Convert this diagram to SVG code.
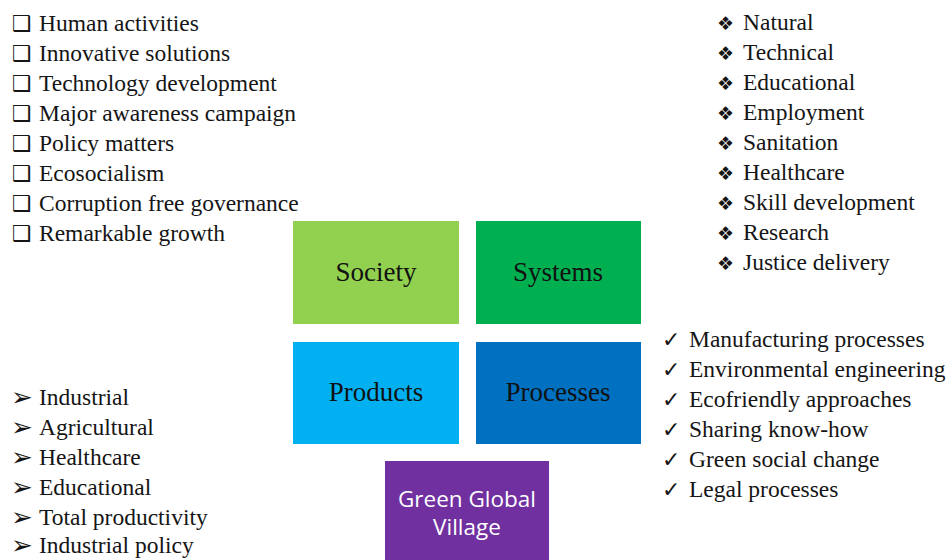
<svg xmlns="http://www.w3.org/2000/svg" width="951" height="560" viewBox="0 0 951 560">
  <style>
    .item { font-family: 'Liberation Serif', 'Times New Roman', serif; font-size: 23.5px; fill: #151515; }
    .mark { font-family: 'DejaVu Sans', sans-serif; fill: #151515; }
    .box-label { font-family: 'Liberation Serif', 'Times New Roman', serif; font-size: 27px; fill: #111; text-anchor: middle; }
    .gv-label { font-family: 'Open Sans', 'Noto Sans', sans-serif; font-size: 22.5px; fill: #fff; text-anchor: middle; }
  </style>

  <rect width="951" height="560" fill="#fff"/>

  <!-- central blocks -->
  <g id="society">
    <rect x="293" y="221" width="166" height="103" fill="#92D050"/>
    <text class="box-label" x="376" y="281">Society</text>
  </g>
  <g id="systems">
    <rect x="476" y="221" width="165" height="103" fill="#00B050"/>
    <text class="box-label" x="558" y="281">Systems</text>
  </g>
  <g id="products">
    <rect x="293" y="342" width="166" height="102" fill="#00B0F0"/>
    <text class="box-label" x="376" y="401">Products</text>
  </g>
  <g id="processes">
    <rect x="476" y="342" width="165" height="102" fill="#0070C0"/>
    <text class="box-label" x="558" y="401">Processes</text>
  </g>
  <g id="green-global-village">
    <rect x="385" y="461" width="164" height="99" fill="#7030A0"/>
    <text class="gv-label" x="467" y="507">Green Global</text>
    <text class="gv-label" x="467" y="535">Village</text>
  </g>

  <!-- society list (top left) -->
  <g id="society-list">
    <g class="mark" font-size="22" font-weight="bold">
      <text x="12" y="31">❑</text>
      <text x="12" y="61">❑</text>
      <text x="12" y="91">❑</text>
      <text x="12" y="121">❑</text>
      <text x="12" y="151">❑</text>
      <text x="12" y="181">❑</text>
      <text x="12" y="211">❑</text>
      <text x="12" y="241">❑</text>
    </g>
    <text class="item" x="39" y="31">Human activities</text>
    <text class="item" x="39" y="61">Innovative solutions</text>
    <text class="item" x="39" y="91">Technology development</text>
    <text class="item" x="39" y="121">Major awareness campaign</text>
    <text class="item" x="39" y="151">Policy matters</text>
    <text class="item" x="39" y="181">Ecosocialism</text>
    <text class="item" x="39" y="211">Corruption free governance</text>
    <text class="item" x="39" y="241">Remarkable growth</text>
  </g>

  <!-- systems list (top right) -->
  <g id="systems-list">
    <g class="mark" font-size="19">
      <text x="717" y="30">❖</text>
      <text x="717" y="60">❖</text>
      <text x="717" y="90">❖</text>
      <text x="717" y="120">❖</text>
      <text x="717" y="150">❖</text>
      <text x="717" y="180">❖</text>
      <text x="717" y="210">❖</text>
      <text x="717" y="240">❖</text>
      <text x="717" y="270">❖</text>
    </g>
    <text class="item" x="743" y="30">Natural</text>
    <text class="item" x="743" y="60">Technical</text>
    <text class="item" x="743" y="90">Educational</text>
    <text class="item" x="743" y="120">Employment</text>
    <text class="item" x="743" y="150">Sanitation</text>
    <text class="item" x="743" y="180">Healthcare</text>
    <text class="item" x="743" y="210">Skill development</text>
    <text class="item" x="743" y="240">Research</text>
    <text class="item" x="743" y="270">Justice delivery</text>
  </g>

  <!-- processes list (right) -->
  <g id="processes-list">
    <g class="mark" font-size="22">
      <text x="662" y="347">✓</text>
      <text x="662" y="377">✓</text>
      <text x="662" y="407">✓</text>
      <text x="662" y="437">✓</text>
      <text x="662" y="467">✓</text>
      <text x="662" y="497">✓</text>
    </g>
    <text class="item" x="689" y="347">Manufacturing processes</text>
    <text class="item" x="689" y="377">Environmental engineering</text>
    <text class="item" x="689" y="407">Ecofriendly approaches</text>
    <text class="item" x="689" y="437">Sharing know-how</text>
    <text class="item" x="689" y="467">Green social change</text>
    <text class="item" x="689" y="497">Legal processes</text>
  </g>

  <!-- products list (bottom left) -->
  <g id="products-list">
    <g class="mark" font-size="26">
      <text x="11" y="406">➢</text>
      <text x="11" y="436">➢</text>
      <text x="11" y="466">➢</text>
      <text x="11" y="496">➢</text>
      <text x="11" y="526">➢</text>
      <text x="11" y="554">➢</text>
    </g>
    <text class="item" x="39" y="405">Industrial</text>
    <text class="item" x="39" y="435">Agricultural</text>
    <text class="item" x="39" y="465">Healthcare</text>
    <text class="item" x="39" y="495">Educational</text>
    <text class="item" x="39" y="525">Total productivity</text>
    <text class="item" x="39" y="553">Industrial policy</text>
  </g>
</svg>
